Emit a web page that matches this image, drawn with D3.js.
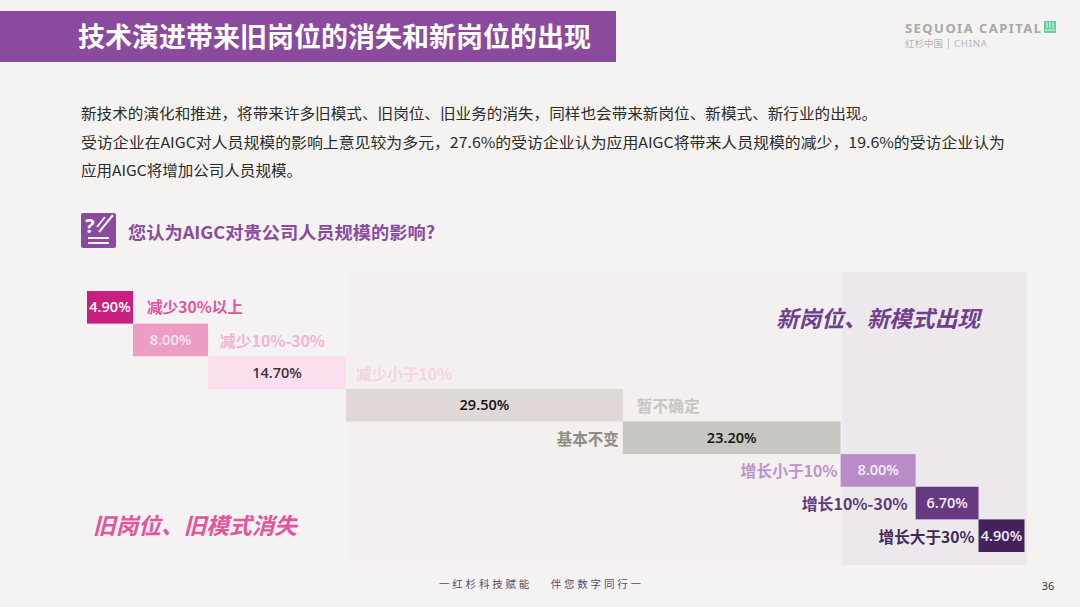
<!DOCTYPE html>
<html><head><meta charset="utf-8">
<script src="https://cdn.jsdelivr.net/npm/d3@7"></script>
<style>html,body{margin:0;padding:0;background:#f4f3f2;overflow:hidden}
svg{display:block}text{font-family:"Noto Sans CJK SC","Noto Sans",sans-serif}
.num{font-family:"Open Sans","Noto Sans",sans-serif}</style></head><body><div id="c"></div>
<script>
const categories=["减少30%以上","减少10%-30%","减少小于10%","暂不确定","基本不变","增长小于10%","增长10%-30%","增长大于30%"];
const values=[4.9,8.0,14.7,29.5,23.2,8.0,6.7,4.9];
const barColors=["#c91f7e","#ee9dc2","#fbdfee","#e0d7d7","#c8c6c1","#b88cc8","#663a80","#43225c"];
const valueColors=["#fff","#f8e6ef","#3b3338","#111","#111","#f6eef8","#f3ecf6","#f3ecf6"];
const labelColors=["#e0559c","#f2b5d2","#f6d3e5","#c9c5c3","#8f8b86","#bd93cd","#5f3a78","#3f2a55"];
const labelSides=["right","right","right","right","left","left","left","left"];
const intro=["新技术的演化和推进，将带来许多旧模式、旧岗位、旧业务的消失，同样也会带来新岗位、新模式、新行业的出现。",
"受访企业在AIGC对人员规模的影响上意见较为多元，27.6%的受访企业认为应用AIGC将带来人员规模的减少，19.6%的受访企业认为",
"应用AIGC将增加公司人员规模。"];
const W=1080,H=607;
const svg=d3.select("#c").append("svg").attr("width",W).attr("height",H);
svg.append("rect").attr("width",W).attr("height",H).attr("fill","#f4f3f2");
// header
svg.append("rect").attr("x",0).attr("y",11).attr("width",616).attr("height",51).attr("fill","#8a4b9f");
svg.append("text").attr("x",78).attr("y",47).attr("font-size",27).attr("font-weight",700).attr("fill","#fff").attr("textLength",513).attr("lengthAdjust","spacingAndGlyphs").text("技术演进带来旧岗位的消失和新岗位的出现");
// logo
svg.append("text").attr("x",905).attr("y",33).attr("font-size",13).attr("font-weight",700).attr("fill","#a9a9a7").attr("textLength",136).style("font-family","'Noto Sans',sans-serif").text("SEQUOIA CAPITAL");
svg.append("rect").attr("x",1044).attr("y",21).attr("width",12).attr("height",12).attr("fill","#5fcf9e");
svg.append("path").attr("d","M1047 22v6M1050 22v6M1053 22v6M1045 30h10").attr("stroke","#f4f3f2").attr("stroke-width",1).attr("fill","none");
svg.append("text").attr("x",905).attr("y",47).attr("font-size",9.5).attr("fill","#b4b4b2").text("红杉中国");
svg.append("rect").attr("x",948).attr("y",38).attr("width",1).attr("height",11).attr("fill","#c4c4c2");
svg.append("text").attr("x",954).attr("y",47).attr("font-size",9.5).attr("fill","#b4b4b2").attr("letter-spacing",.8).style("font-family","'Noto Sans',sans-serif").text("CHINA");
// intro
const introWidths=[796,924,221];
intro.forEach((t,i)=>svg.append("text").attr("x",81).attr("y",[119,148,176][i]).attr("font-size",15).attr("fill","#2b2b2b").attr("textLength",introWidths[i]).attr("lengthAdjust","spacingAndGlyphs").text(t));
// question icon
svg.append("rect").attr("x",81).attr("y",213).attr("width",35).attr("height",35).attr("rx",2).attr("fill","#8a4b9f");
svg.append("text").attr("x",85).attr("y",233).attr("font-size",20).attr("font-weight",700).attr("fill","#f4f3f2").style("font-family","'Noto Sans',sans-serif").text("?");
svg.append("path").attr("d","M99 232l14-17M97 227l8-10M88 238h21M88 243h21").attr("stroke","#f4f3f2").attr("stroke-width",2).attr("fill","none");
svg.append("text").attr("x",128).attr("y",239).attr("font-size",17.5).attr("font-weight",700).attr("fill","#8a4b9f").attr("textLength",307).attr("lengthAdjust","spacingAndGlyphs").text("您认为AIGC对贵公司人员规模的影响?");
// panels
svg.append("rect").attr("x",80).attr("y",272).attr("width",267).attr("height",293).attr("fill","#f4f2f2");
svg.append("rect").attr("x",347).attr("y",272).attr("width",494).attr("height",293).attr("fill","#f3f0ef");
svg.append("rect").attr("x",842).attr("y",272).attr("width",185).attr("height",293).attr("fill","#ece8eb");
// chart
const cum=d3.cumsum(values);
const x=d3.scaleLinear().domain([0,d3.sum(values)]).range([87,1024.5]);
const y=d3.scaleBand().domain(categories).range([291,552]);
const rows=categories.map((c,i)=>({c,v:values[i],i,x0:x(cum[i]-values[i]),x1:x(cum[i])}));
const g=svg.append("g");
g.selectAll("rect").data(rows).join("rect").attr("x",d=>d.x0).attr("y",d=>y(d.c)).attr("width",d=>d.x1-d.x0).attr("height",y.bandwidth()).attr("fill",d=>barColors[d.i]);
g.selectAll("text.v").data(rows).join("text").attr("class","v num").attr("x",d=>(d.x0+d.x1)/2).attr("y",d=>y(d.c)+y.bandwidth()/2+5).attr("text-anchor","middle").attr("font-size",14.5).attr("font-weight",600).attr("fill",d=>valueColors[d.i]).text(d=>d.v.toFixed(2)+"%");
const labelGap=[14,12,10,14,4,3,8,4];
const labelLen=[96,105,96,63,62,97,106,96];
g.selectAll("text.l").data(rows).join("text").attr("class","l").attr("x",d=>labelSides[d.i]==="right"?d.x1+labelGap[d.i]:d.x0-labelGap[d.i]).attr("y",d=>y(d.c)+y.bandwidth()/2+6+(d.i===0?0:1)).attr("text-anchor",d=>labelSides[d.i]==="right"?"start":"end").attr("font-size",15.5).attr("font-weight",700).attr("fill",d=>labelColors[d.i]).attr("textLength",d=>labelLen[d.i]).attr("lengthAdjust","spacingAndGlyphs").text(d=>d.c);
// annotations
svg.append("text").attr("x",776).attr("y",327).attr("font-size",22.5).attr("font-weight",700).attr("font-style","italic").attr("fill","#6f3f8c").attr("textLength",204).attr("lengthAdjust","spacingAndGlyphs").text("新岗位、新模式出现");
svg.append("text").attr("x",93).attr("y",534).attr("font-size",22.5).attr("font-weight",700).attr("font-style","italic").attr("fill","#e0559c").attr("textLength",204).attr("lengthAdjust","spacingAndGlyphs").text("旧岗位、旧模式消失");
// footer
svg.append("text").attr("x",439).attr("y",588).attr("font-size",10.5).attr("fill","#5a4a68").attr("textLength",202).text("一红杉科技赋能　 伴您数字同行一");
svg.append("text").attr("x",1048).attr("y",590).attr("text-anchor","middle").attr("font-size",11).attr("fill","#333").style("font-family","'Noto Sans',sans-serif").text("36");
</script></body></html>
